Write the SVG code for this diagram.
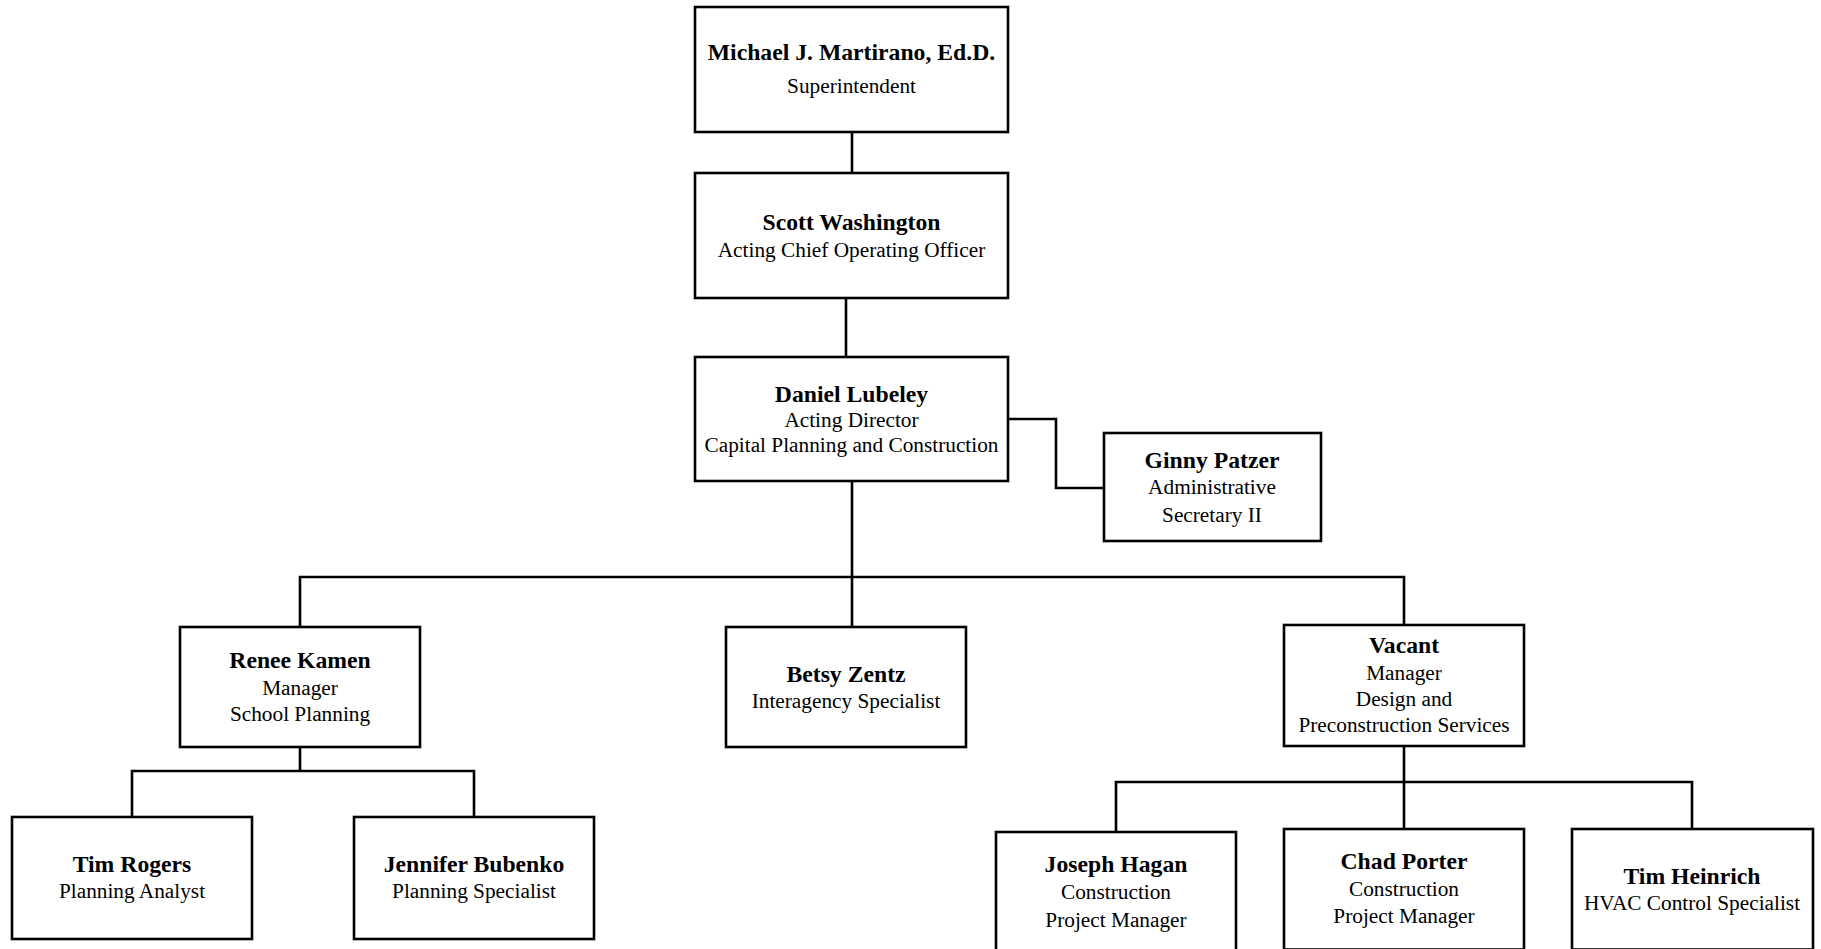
<svg xmlns="http://www.w3.org/2000/svg" width="1821" height="949" viewBox="0 0 1821 949">
<style>
.box{fill:#fff;stroke:#000;stroke-width:2.6}
.ln{fill:none;stroke:#000;stroke-width:2.6}
text{font-family:"Liberation Serif","Times New Roman",serif;fill:#000;text-anchor:middle}
.n{font-weight:bold;font-size:23.7px}
.t{font-size:21.3px}
</style>
<rect width="1821" height="949" fill="#fff"/>
<g id="connectors">
<path class="ln" d="M852 132V173"/>
<path class="ln" d="M846 298V357"/>
<path class="ln" d="M1008 419H1056V488H1104"/>
<path class="ln" d="M852 481V627M300 627V577H1404V625"/>
<path class="ln" d="M300 747V771M132 817V771H474V817"/>
<path class="ln" d="M1404 746V829M1116 832V782H1692V829"/>
</g>
<g id="michael"><rect class="box" x="695" y="7" width="313" height="125"/><text class="n" x="851.5" y="60">Michael J. Martirano, Ed.D.</text><text class="t" x="851.5" y="93">Superintendent</text></g>
<g id="scott"><rect class="box" x="695" y="173" width="313" height="125"/><text class="n" x="851.5" y="230">Scott Washington</text><text class="t" x="851.5" y="257">Acting Chief Operating Officer</text></g>
<g id="daniel"><rect class="box" x="695" y="357" width="313" height="124"/><text class="n" x="851.5" y="401.7">Daniel Lubeley</text><text class="t" x="851.5" y="427">Acting Director</text><text class="t" x="851.5" y="451.7">Capital Planning and Construction</text></g>
<g id="ginny"><rect class="box" x="1104" y="433" width="217" height="108"/><text class="n" x="1212" y="468">Ginny Patzer</text><text class="t" x="1212" y="494">Administrative</text><text class="t" x="1212" y="521.7">Secretary II</text></g>
<g id="renee"><rect class="box" x="180" y="627" width="240" height="120"/><text class="n" x="300" y="668.3">Renee Kamen</text><text class="t" x="300" y="695">Manager</text><text class="t" x="300" y="720.7">School Planning</text></g>
<g id="betsy"><rect class="box" x="726" y="627" width="240" height="120"/><text class="n" x="846" y="681.7">Betsy Zentz</text><text class="t" x="846" y="707.7">Interagency Specialist</text></g>
<g id="vacant"><rect class="box" x="1284" y="625" width="240" height="121"/><text class="n" x="1404" y="653.3">Vacant</text><text class="t" x="1404" y="680">Manager</text><text class="t" x="1404" y="706">Design and</text><text class="t" x="1404" y="732.3">Preconstruction Services</text></g>
<g id="timrogers"><rect class="box" x="12" y="817" width="240" height="122"/><text class="n" x="132" y="872.3">Tim Rogers</text><text class="t" x="132" y="898.3">Planning Analyst</text></g>
<g id="jennifer"><rect class="box" x="354" y="817" width="240" height="122"/><text class="n" x="474" y="872.3">Jennifer Bubenko</text><text class="t" x="474" y="898.3">Planning Specialist</text></g>
<g id="joseph"><rect class="box" x="996" y="832" width="240" height="130"/><text class="n" x="1116" y="871.7">Joseph Hagan</text><text class="t" x="1116" y="899">Construction</text><text class="t" x="1116" y="926.7">Project Manager</text></g>
<g id="chad"><rect class="box" x="1284" y="829" width="240" height="120.5"/><text class="n" x="1404" y="869.3">Chad Porter</text><text class="t" x="1404" y="896">Construction</text><text class="t" x="1404" y="923.3">Project Manager</text></g>
<g id="timheinrich"><rect class="box" x="1572" y="829" width="241" height="120.5"/><text class="n" x="1692" y="884">Tim Heinrich</text><text class="t" x="1692" y="910">HVAC Control Specialist</text></g>
</svg>
